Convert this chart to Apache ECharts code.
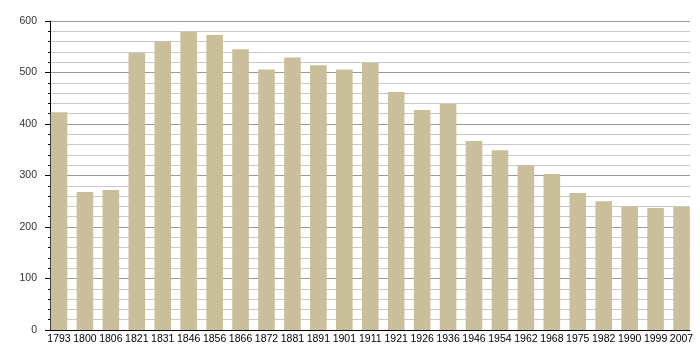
<!DOCTYPE html>
<html>
<head>
<meta charset="utf-8">
<script src="https://cdn.jsdelivr.net/npm/echarts@6/dist/echarts.min.js"></script>
<style>html,body{margin:0;padding:0;background:#fff}#c{width:700px;height:360px}</style>
</head>
<body>
<div id="c"></div>
<script>
const years = ['1793','1800','1806','1821','1831','1846','1856','1866','1872','1881','1891','1901','1911','1921','1926','1936','1946','1954','1962','1968','1975','1982','1990','1999','2007'];
const population = [423,268,272,538,560,579,573,545,506,529,514,506,519,462,427,439,367,349,320,303,266,250,240,237,239];
const yMin = 0, yMax = 600, yStep = 100;

const chart = echarts.init(document.getElementById('c'), null, {renderer: 'canvas'});
const font = 'Liberation Sans, Arial, sans-serif';
chart.setOption({
  animation: false,
  backgroundColor: '#fff',
  grid: [
    {left: 50, right: 10, top: 21, bottom: 30},
    {left: 46, right: 5.5, top: 21, bottom: 30}
  ],
  xAxis: [
    {type: 'category', gridIndex: 0, data: years,
     axisLine: {show: true, lineStyle: {color: '#000', width: 1}},
     axisTick: {show: false}, axisLabel: {show: false}, splitLine: {show: false}},
    {type: 'category', gridIndex: 1, data: years,
     axisLine: {show: false}, axisTick: {show: false}, splitLine: {show: false},
     axisLabel: {show: true, interval: 0, margin: 4, color: '#000', fontSize: 10.5, fontFamily: font}}
  ],
  yAxis: [
    {type: 'value', gridIndex: 0, min: yMin, max: yMax, interval: yStep,
     axisLine: {show: true, lineStyle: {color: '#000', width: 1}},
     axisTick: {show: true, inside: false, length: 5, lineStyle: {color: '#000'}},
     minorTick: {show: true, splitNumber: 5, length: 2, lineStyle: {color: '#000'}},
     splitLine: {show: true, lineStyle: {color: '#999', width: 1}},
     minorSplitLine: {show: true, lineStyle: {color: '#c8c8c8', width: 1}},
     axisLabel: {margin: 13, color: '#333', fontSize: 10.5, fontFamily: font}},
    {type: 'value', gridIndex: 1, min: yMin, max: yMax, interval: yStep, show: false,
     splitLine: {show: false}}
  ],
  series: [{
    type: 'bar', xAxisIndex: 1, yAxisIndex: 1,
    data: population, barWidth: '64%',
    itemStyle: {color: '#c9bf9a'}
  }]
});
</script>
</body>
</html>
